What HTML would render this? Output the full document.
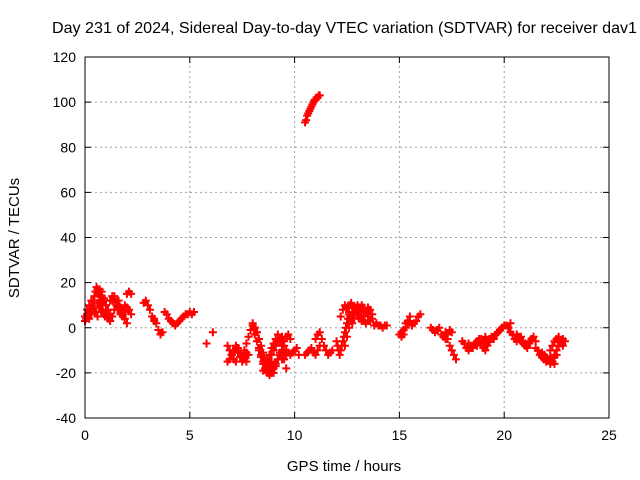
<!DOCTYPE html>
<html><head><meta charset="utf-8"><style>
body{margin:0;background:#fff}
svg{display:block;font-family:"Liberation Sans",sans-serif;font-size:14px}
</style></head><body>
<svg id="chart" width="640" height="480" viewBox="0 0 640 480">
<rect width="640" height="480" fill="#fff"/>
<text x="344.5" y="33" text-anchor="middle" font-size="16" textLength="585" lengthAdjust="spacingAndGlyphs">Day 231 of 2024, Sidereal Day-to-day VTEC variation (SDTVAR) for receiver dav1</text>
<text x="344" y="471" text-anchor="middle" font-size="15">GPS time / hours</text>
<text transform="translate(19,238) rotate(-90)" text-anchor="middle" font-size="15">SDTVAR / TECUs</text>
<g id="grid"></g><g id="marks"></g>
<rect x="85" y="57" width="524" height="361" fill="none" stroke="#000" stroke-width="1"/>
</svg>
<script>
const xTicks=[0,5,10,15,20,25];
const yTicks=[-40,-20,0,20,40,60,80,100,120];
const trackStart=[0,0,0.6,1.0,2.0,2.8,3.3,3.8,5.8,6.1,6.8,6.8,7.5,8.0,8.3,8.5,9.4,10.5,11.0,10.5,12.0,12.2,12.6,13.8,15.0,15.6,16.5,17.2,18.0,20.2,21.5,22.2,
 0.1,1.2,7.0,8.1,8.6,9.0,12.4,13.0,15.1,18.3,19.0,20.6,21.8,22.4];
const trackStep=[0.05,0.1,0.1,0.1,0.1,0.1,0.1,0.1,0.1,0.1,0.1,0.1,0.1,0.1,0.1,0.1,0.1,0.1,0.1,0.05,0.05,0.1,0.1,0.1,0.1,0.1,0.1,0.1,0.1,0.1,0.1,0.1,
 0.1,0.1,0.1,0.1,0.1,0.1,0.1,0.1,0.1,0.1,0.1,0.1,0.1,0.1];
const trackValues=[
[5,4,6,5,7,6,8,10,12,14,16,18,17,15,12,10,8,7,6,5,6],
[3,5,4,6,8,7,5,9,11,13],
[15,17,14,12,10,8,6,12,14,10,8,6,5,7,9,8,6],
[6,4,3,5,8,10,12,9,6,4,2],
[15,16,15],
[11,12,10,8,5,3],
[4,2,-1,-3,-2],
[7,6,4,3,2,1,2,3,4,5,6,6,7,6,7],
[-7],
[-2],
[-15,-14,-12,-10,-8,-9,-11,-13,-14,-15,-12],
[-8,-10,-12,-14,-15],
[-13,-10,-7,-4,-1,1,0,-2],
[2,0,-2,-5,-8,-11,-14,-17,-19,-20,-18,-16,-14,-12],
[-10,-13,-16,-18,-20,-21,-19,-17],
[-19,-18,-17,-15,-12,-10,-8,-6,-5,-4,-8,-12],
[-14,-12,-10,-11,-12,-11,-10,-9,-12],
[-12,-11,-10,-9,-11,-12,-10,-8],
[-5,-3,-2,-5,-8,-10,-12,-11,-10],
[91,92,94,95,96,97,98,99,100,101,101,102,102,103,103],
[-6,-8,-10,-12,-10,-8,-6,-4,-2,0,2,4,6,5,3,2,4,6,8,9,7],
[5,8,10,9,7,10,9,8,6,5,4,3,2,3],
[10,11,9,8,6,4,3,5,7,9,8,6],
[1,2,1,1,0,1,1],
[-3,-2,-1,2,3,5],
[1,2,3,5,6],
[0,-1,-2,-1,0,-3,-4,-5,-3,-1,-2],
[-2,-5,-8,-10,-12,-14],
[-6,-7,-9,-10,-9,-8,-7,-8,-6,-5,-6,-7,-6,-5,-4,-5,-3,-2,-1,0,1,1,0,2],
[0,-2,-3,-5,-6,-5,-4,-6,-7,-8,-6,-5,-4,-6],
[-9,-10,-12,-13,-14,-15,-14,-13,-15,-16,-12],
[-10,-8,-6,-5,-4,-6,-8],
[8,10,12,9,7,11,14,16,13,10],
[12,14,13,11,9,7,8,10],
[-12,-10,-9,-11,-13,-15,-13,-11],
[-3,-6,-9,-12,-15,-18,-19,-17,-15],
[-16,-14,-12,-9,-7,-5,-3,-6,-10,-14,-18],
[-20,-17,-14,-11,-8,-6,-4,-3,-5],
[-8,-4,0,3,6,8,10,9,7],
[6,8,10,9,7,5,3,4],
[-4,-3,0,2,3],
[-7,-8,-9,-7,-6,-5,-7,-6,-4],
[-9,-10,-8,-6,-5,-4,-3,-2,-1,0],
[-3,-4,-6,-7,-8,-9,-7],
[-11,-12,-13,-14,-16,-15,-13],
[-12,-10,-8,-7,-5,-6]
];
const X0=85,X1=609,Y0=418,Y1=57;
const xs=t=>X0+(t-0)/(25-0)*(X1-X0);
const ys=v=>Y0-(v+40)/(160)*(Y0-Y1);
const NS='http://www.w3.org/2000/svg';
const grid=document.getElementById('grid'),marks=document.getElementById('marks');
function mk(tag,at,parent){const e=document.createElementNS(NS,tag);for(const k in at)e.setAttribute(k,at[k]);parent.appendChild(e);return e;}
xTicks.forEach(t=>{const x=xs(t);
 if(t>0&&t<25){const g=mk('line',{x1:x,x2:x,y1:Y0,y2:Y1,stroke:'#a0a0a0','stroke-dasharray':'2,3'},grid);
 
 }
 mk('line',{x1:x,x2:x,y1:Y0,y2:Y0-6,stroke:'#000'},grid);mk('line',{x1:x,x2:x,y1:Y1,y2:Y1+6,stroke:'#000'},grid);
 const l=mk('text',{x:x,y:Y0+22,'text-anchor':'middle'},grid);l.textContent=t;
 
 });
yTicks.forEach(v=>{const y=ys(v);
 if(v>-40&&v<120){const g=mk('line',{x1:X0,x2:X1,y1:y,y2:y,stroke:'#a0a0a0','stroke-dasharray':'2,3'},grid);
 
 }
 mk('line',{x1:X0,x2:X0+6,y1:y,y2:y,stroke:'#000'},grid);mk('line',{x1:X1,x2:X1-6,y1:y,y2:y,stroke:'#000'},grid);
 const l=mk('text',{x:X0-9,y:y+5,'text-anchor':'end'},grid);l.textContent=v;
 
 });
trackValues.forEach((vals,i)=>{vals.forEach((v,j)=>{
 const x=xs(trackStart[i]+j*trackStep[i]),y=ys(v);
 const p=mk('path',{d:`M${x-4},${y}h8M${x},${y-4}v8`,stroke:'#f00','stroke-width':2,fill:'none'},marks);
 
 });});
</script>
</body></html>
